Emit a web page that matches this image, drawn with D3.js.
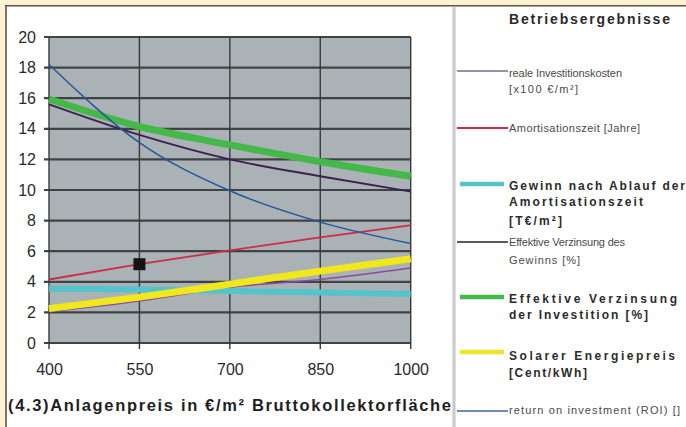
<!DOCTYPE html>
<html>
<head>
<meta charset="utf-8">
<script src="https://cdn.jsdelivr.net/npm/d3@7"></script>
<style>
  html, body { margin: 0; padding: 0; background: #fcf3d4; }
  svg { display: block; }
  text { font-family: "Liberation Sans", Arial, sans-serif; }
</style>
</head>
<body>
<svg id="chart" width="686" height="427"></svg>
<script>
// Anlagenpreis categories (€/m² Bruttokollektorfläche)
const categories = [400, 550, 700, 850, 1000];
const yTicks = [0, 2, 4, 6, 8, 10, 12, 14, 16, 18, 20];

// Series values per category
const realeInvestitionskosten = [2.05, 2.75, 3.65, 4.15, 4.9];
const amortisationszeit       = [4.15, 5.15, 6.05, 6.9, 7.7];
const gewinnNachAmortisation  = [3.55, 3.5, 3.4, 3.3, 3.2];
const verzinsungGewinn        = [15.6, 13.6, 12.0, 10.9, 9.9];
const verzinsungInvestition   = [15.95, 14.15, 12.95, 11.85, 10.9];
const solarerEnergiepreis     = [2.25, 3.0, 3.85, 4.7, 5.5];
const returnOnInvestment      = [18.2, 13.1, 9.95, 7.9, 6.5];

// Highlighted point on the Amortisationszeit curve (index into categories)
const markerIndex = 1;

const legendTitle = "Betriebsergebnisse";
const xTitle = "(4.3)Anlagenpreis in €/m² Bruttokollektorfläche";

const series = [
  { values: realeInvestitionskosten, color: "#8a4c9c", width: 1.6, legendColor: "#7a6a84", legendWidth: 1.3,
    lines: ["reale Investitionskosten", "[x100 €/m²]"], bold: false },
  { values: amortisationszeit, color: "#cc2e4a", width: 1.8, legendColor: "#cc2e4a", legendWidth: 1.8,
    lines: ["Amortisationszeit [Jahre]"], bold: false },
  { values: gewinnNachAmortisation, color: "#55c3cc", width: 6, legendColor: "#55c3cc", legendWidth: 4.5,
    lines: ["Gewinn nach Ablauf der", "Amortisationszeit", "[T€/m²]"], bold: true },
  { values: verzinsungGewinn, color: "#3e1f52", width: 1.9, legendColor: "#222222", legendWidth: 1.3,
    lines: ["Effektive Verzinsung des", "Gewinns [%]"], bold: false },
  { values: verzinsungInvestition, color: "#45b84a", width: 7, legendColor: "#45b84a", legendWidth: 4.5,
    lines: ["Effektive Verzinsung", "der Investition [%]"], bold: true },
  { values: solarerEnergiepreis, color: "#f0e81c", width: 7, legendColor: "#efe22a", legendWidth: 4.5,
    lines: ["Solarer Energiepreis", "[Cent/kWh]"], bold: true },
  { values: returnOnInvestment, color: "#24579a", width: 1.5, legendColor: "#3a64a0", legendWidth: 1.3,
    lines: ["return on investment (ROI) []"], bold: false }
];

// Legend layout: sample line y, text baselines, text widths
const legendLayout = [
  { lineY: 71,  base: [77, 93],       widths: [113, 69] },
  { lineY: 128, base: [132],          widths: [131] },
  { lineY: 184, base: [190, 206, 225], widths: [176, 134, 53] },
  { lineY: 242, base: [246, 264],     widths: [116, 71] },
  { lineY: 297, base: [303, 319],     widths: [168, 139] },
  { lineY: 352, base: [360, 377],     widths: [166, 78] },
  { lineY: 411, base: [414],          widths: [171] }
];

const svg = d3.select("#chart");

// Frame: cream margin, dark rule, white panel
svg.append("rect").attr("x", 0).attr("y", 0).attr("width", 686).attr("height", 427).attr("fill", "#fcf3d4");
svg.append("rect").attr("x", 6).attr("y", 6).attr("width", 680).attr("height", 421).attr("fill", "#ffffff");
svg.append("line").attr("x1", 5).attr("x2", 686).attr("y1", 5.8).attr("y2", 5.8)
  .attr("stroke", "#5f5242").attr("stroke-width", 1.6);
svg.append("line").attr("x1", 6).attr("x2", 6).attr("y1", 5).attr("y2", 427)
  .attr("stroke", "#5f5242").attr("stroke-width", 1.6);
// Separator between chart and legend
svg.append("line").attr("x1", 454).attr("x2", 454).attr("y1", 7).attr("y2", 427)
  .attr("stroke", "#cbcbcb").attr("stroke-width", 3.2);

const plotLeft = 49, plotRight = 410.7, plotTop = 37, plotBottom = 343;

const x = d3.scalePoint().domain(categories).range([plotLeft, plotRight]).padding(0);
const y = d3.scaleLinear().domain([0, 20]).range([plotBottom, plotTop]);

// Plot background
svg.append("rect").attr("x", plotLeft).attr("y", plotTop)
  .attr("width", plotRight - plotLeft).attr("height", plotBottom - plotTop).attr("fill", "#aab2b6");

// Horizontal gridlines with outside tick marks
svg.append("g").selectAll("line").data(yTicks).join("line")
  .attr("x1", plotLeft - 5).attr("x2", plotRight)
  .attr("y1", d => y(d)).attr("y2", d => y(d))
  .attr("stroke", "#404345").attr("stroke-width", 2.2);

// Vertical gridlines at each category, extending below as tick marks
svg.append("g").selectAll("line").data(categories).join("line")
  .attr("x1", d => x(d)).attr("x2", d => x(d))
  .attr("y1", plotTop).attr("y2", plotBottom + 6)
  .attr("stroke", "#35393b").attr("stroke-width", 1.4);

// Axis labels via d3 axes
const yAxis = svg.append("g").attr("transform", `translate(${plotLeft - 13},0)`)
  .call(d3.axisLeft(y).tickValues(yTicks).tickSize(0).tickPadding(0));
yAxis.select(".domain").remove();
yAxis.selectAll("text").attr("font-size", 16).attr("fill", "#2a2a2a")
  .style("font-family", "'Liberation Sans', Arial, sans-serif");

const xAxis = svg.append("g").attr("transform", `translate(0,${plotBottom})`)
  .call(d3.axisBottom(x).tickSize(0).tickPadding(21));
xAxis.select(".domain").remove();
xAxis.selectAll("text").attr("font-size", 16).attr("fill", "#2a2a2a")
  .style("font-family", "'Liberation Sans', Arial, sans-serif");

// Series lines
const line = d3.line()
  .x((d, i) => x(categories[i]))
  .y(d => y(d))
  .curve(d3.curveMonotoneX);

const plot = svg.append("g");
series.forEach(s => {
  plot.append("path").datum(s.values)
    .attr("d", line)
    .attr("fill", "none")
    .attr("stroke", s.color)
    .attr("stroke-width", s.width)
    .attr("stroke-linecap", "butt")
    .attr("stroke-linejoin", "round");
});

// Marker on the Amortisationszeit curve
plot.append("rect")
  .attr("x", x(categories[markerIndex]) - 6)
  .attr("y", y(amortisationszeit[markerIndex]) - 6)
  .attr("width", 12).attr("height", 12)
  .attr("fill", "#141414");

// Category axis title
svg.append("text")
  .attr("x", 8).attr("y", 411)
  .attr("font-size", 16.5).attr("font-weight", "bold").attr("fill", "#1f1f1f")
  .attr("textLength", 443).attr("lengthAdjust", "spacing")
  .text(xTitle);

// Legend
svg.append("text")
  .attr("x", 509).attr("y", 24)
  .attr("font-size", 14).attr("font-weight", "bold").attr("fill", "#2a2a2a")
  .attr("textLength", 161).attr("lengthAdjust", "spacing")
  .text(legendTitle);

const legend = svg.append("g");
series.forEach((s, i) => {
  const lay = legendLayout[i];
  const thick = s.legendWidth > 3;
  legend.append("line")
    .attr("x1", thick ? 460 : 457).attr("x2", thick ? 504 : 508)
    .attr("y1", lay.lineY).attr("y2", lay.lineY)
    .attr("stroke", s.legendColor).attr("stroke-width", s.legendWidth);
  s.lines.forEach((t, j) => {
    legend.append("text")
      .attr("x", 509).attr("y", lay.base[j])
      .attr("font-size", s.bold ? 12 : 11)
      .attr("font-weight", s.bold ? "bold" : "normal")
      .attr("fill", s.bold ? "#2b2b2b" : "#4a4a4a")
      .attr("textLength", lay.widths[j]).attr("lengthAdjust", "spacing")
      .text(t);
  });
});
</script>
</body>
</html>
